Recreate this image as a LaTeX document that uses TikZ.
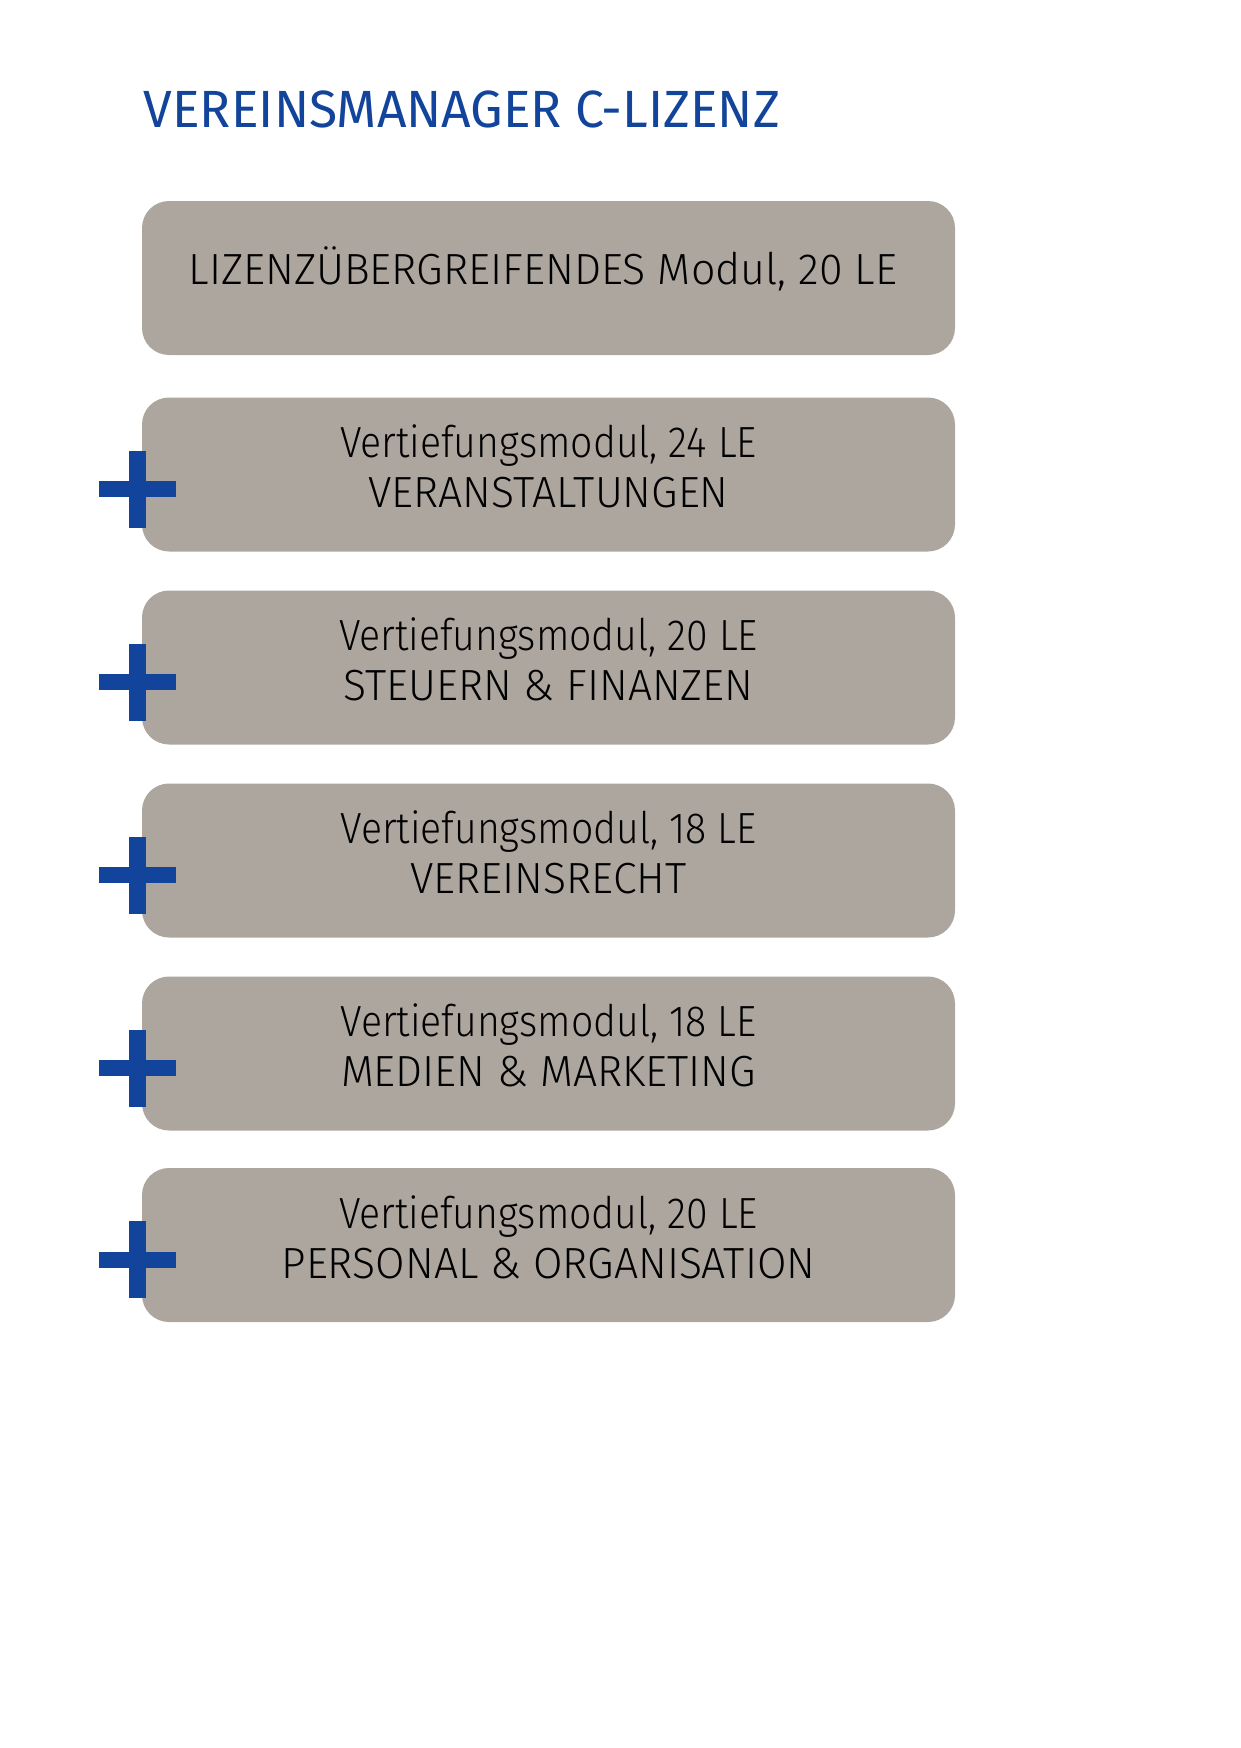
\documentclass[tikz,border=0pt]{standalone}
\usepackage{fontspec}
\setmainfont{Fira Sans Light}[FakeStretch=0.98]
\newfontfamily\lcfont{Fira Sans Light}[FakeStretch=0.9]
\newfontfamily\titlefont{Fira Sans}[FakeStretch=0.985]
\definecolor{boxgray}{HTML}{ACA69F}
\definecolor{dbblue}{HTML}{11449A}
\newcommand{\vmline}[1]{{\lcfont #1}}
\begin{document}
\begin{tikzpicture}[x=0.1mm,y=-0.1mm,
  modbox/.style={fill=boxgray,draw=none,rounded corners=2.7mm,minimum width=81.3mm,minimum height=15.4mm,inner sep=0pt},
  modtext/.style={align=center,font=\fontsize{12.4}{14.2}\selectfont,text=black,inner sep=0pt},
  plusfill/.style={fill=dbblue}]
\useasboundingbox (0,0) rectangle (1240,1748);
\node[anchor=base west,inner sep=0pt,text=dbblue,font=\titlefont\fontsize{14.9}{16}\selectfont] (title) at (143,128) {VEREINSMANAGER C-LIZENZ};
% boxes
\node[modbox] (b1) at (548.5,278) {};
\node[modbox] (b2) at (548.5,474.5) {};
\node[modbox] (b3) at (548.5,667.5) {};
\node[modbox] (b4) at (548.5,860.5) {};
\node[modbox] (b5) at (548.5,1053.5) {};
\node[modbox] (b6) at (548.5,1245) {};
\node[modtext] (t1) at (543,269) {\addfontfeature{FakeStretch=0.985}LIZENZÜBERGREIFENDES Modul, 20 LE};
\node[modtext] (t2) at ([yshift=0.8mm]b2.center) {\vmline{Vertiefungsmodul, 24 LE}\\VERANSTALTUNGEN};
\node[modtext] (t3) at ([yshift=0.8mm]b3.center) {\vmline{Vertiefungsmodul, 20 LE}\\STEUERN \& FINANZEN};
\node[modtext] (t4) at ([yshift=0.8mm]b4.center) {\vmline{Vertiefungsmodul, 18 LE}\\VEREINSRECHT};
\node[modtext] (t5) at ([yshift=0.8mm]b5.center) {\vmline{Vertiefungsmodul, 18 LE}\\MEDIEN \& MARKETING};
\node[modtext] (t6) at ([yshift=0.8mm]b6.center) {\vmline{Vertiefungsmodul, 20 LE}\\PERSONAL \& ORGANISATION};
% plus signs
\foreach \b in {b2,b3,b4,b5,b6}{
  \coordinate (p\b) at ([yshift=-1.45mm]\b.west -| 137.5,0);
  \fill[plusfill] ([xshift=-3.9mm,yshift=-0.8mm]p\b) rectangle ([xshift=3.85mm,yshift=0.8mm]p\b);
  \fill[plusfill] ([xshift=-0.85mm,yshift=-3.85mm]p\b) rectangle ([xshift=0.85mm,yshift=3.85mm]p\b);
}
\end{tikzpicture}
\end{document}
